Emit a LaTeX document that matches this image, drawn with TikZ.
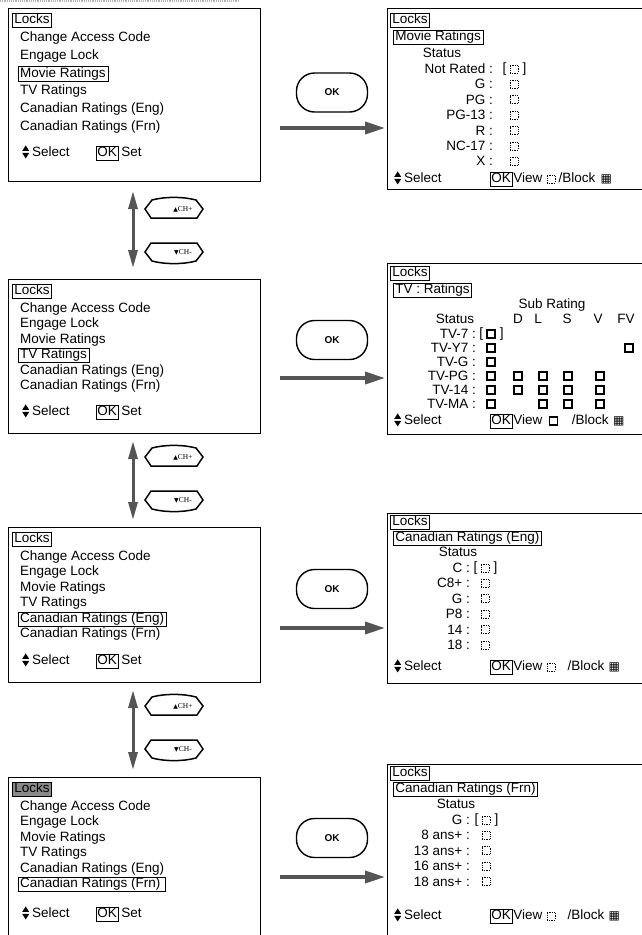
\documentclass[tikz,border=0pt]{standalone}
\usepackage{fontspec}
\setmainfont{Liberation Sans}
\newfontfamily\symfont{DejaVu Sans}
\newfontfamily\btnfont{Liberation Serif}
\usetikzlibrary{positioning, arrows.meta}

\definecolor{cArrow}{HTML}{555555}
\definecolor{cScan}{HTML}{B4B4B4}
\definecolor{cHilite}{HTML}{8A8A8A}

\newcommand{\updn}{\tikz[x=1pt, y=1pt, baseline=-4.5pt]{%
  \fill (0,1) -- (3.5,6.5) -- (7,1) -- cycle;
  \fill (0,-1) -- (3.5,-6.5) -- (7,-1) -- cycle;}}

\tikzset{
  screen/.style={draw, line width=0.8pt, inner sep=0pt, anchor=north west},
  mtext/.style={anchor=west, inner xsep=2pt, inner ysep=1pt, text height=9.4pt, text depth=2.6pt,
                font=\fontsize{13.5}{15}\selectfont},
  ctext/.style={mtext, anchor=center},
  rlab/.style={mtext, anchor=east},
  framed/.style={draw, line width=0.6pt},
  chk/.style={draw, line width=1.2pt, minimum size=8pt, inner sep=0pt},
  chkd/.style={draw, line width=0.8pt, densely dotted, minimum size=8pt, inner sep=0pt},
  blk/.style={mtext, font=\symfont\fontsize{12}{12}\selectfont},
  okbtn/.style={draw, line width=1.4pt, rounded corners=18pt, minimum width=71pt, minimum height=39pt,
                font=\bfseries\fontsize{10}{11}\selectfont},
  okarr/.style={cArrow, line width=3.5pt, -{Triangle[length=20pt, width=12pt]}, shorten >=2pt},
  charr/.style={cArrow, line width=3pt, {Triangle[length=18pt, width=9pt]}-{Triangle[length=18pt, width=9pt]}},
  chbtn/.style={draw, line width=1.5pt},
  chtxt/.style={inner sep=0pt, font=\btnfont\fontsize{7.5}{8}\selectfont},
}

\begin{document}
\begin{tikzpicture}[x=1pt, y=-1pt]
\useasboundingbox (0,0) rectangle (641,935);
\draw[cScan, line width=1.2pt, densely dotted] (0,1) -- (238,1);

% screens
\foreach \r/\LT/\LH/\RT/\RH in {1/8/173/8/181, 2/279/154/263/171, 3/527/155/513/170, 4/777/170/764/180} {
  \node[screen, minimum width=252pt, minimum height=\LH pt] (L\r) at (8,\LT) {};
  \node[screen, minimum width=262pt, minimum height=\RH pt] (R\r) at (387,\RT) {};
}

% OK key and arrow of every row
\foreach \r/\oy/\ay in {1/92.5/128, 2/340/378, 3/589/628, 4/838/877} {
  \node[okbtn] (ok\r) at (332,\oy) {OK};
  \coordinate (oa\r) at (280,\ay);
  \draw[okarr] (oa\r) -- (oa\r -| R\r.west);
}

% menu on the left
\foreach \r/\T/\st/\sl/\lk in {1/8/17.8/145/white, 2/279/15.5/133/white, 3/527/15.5/134/white, 4/777/15.5/137/cHilite} {
  \node[mtext, framed, fill=\lk] (L\r-lk) at (12,\T+12) {Locks};
  \foreach \txt [count=\i] in {Change Access Code, Engage Lock, Movie Ratings, TV Ratings,
                               Canadian Ratings (Eng), Canadian Ratings (Frn)\,}
    \node[mtext] (L\r-\i) at (18,\T+30+\st*\i-\st) {\txt};
  \node[mtext] (L\r-sel) at (20,\T+\sl) {\updn\hspace{3pt}Select};
  \node[mtext, framed, inner xsep=1pt] (L\r-ok) at (96,\T+\sl) {OK};
  \node[mtext, right=1pt of L\r-ok] (L\r-set) {Set};
}
\foreach \r/\i in {1/3, 2/4, 3/5, 4/6}
  \draw[line width=0.6pt] (L\r-\i.south west) rectangle (L\r-\i.north east);

% CH keys between the rows
\foreach \g/\B/\N/\U in {1/191/268/209, 2/441/520/457, 3/690/770/706} {
  \coordinate (vt\g) at (133,\B);
  \coordinate (vb\g) at (133,\N);
  \draw[charr] (vt\g) -- (vb\g);
  \draw[chbtn] (145,\U) -- (152,\U-9) .. controls (165,\U-12.5) and (183,\U-12.5) .. (196,\U-9)
               -- (203,\U) -- (197,\U+9) -- (151,\U+9) -- cycle;
  \draw[chbtn] (145,\U+43) -- (151,\U+34) -- (197,\U+34) -- (203,\U+43) -- (196,\U+52)
               .. controls (183,\U+55.5) and (165,\U+55.5) .. (152,\U+52) -- cycle;
  \node[chtxt] (chu\g) at (183,\U) {{\symfont\fontsize{6}{6}\selectfont ▲}CH+};
  \node[chtxt] (chd\g) at (183,\U+43) {{\symfont\fontsize{6}{6}\selectfont ▼}CH-};
}

% movie ratings
\node[mtext, framed] (R1-lk) at (390,20) {Locks};
\node[mtext, framed] (R1-tt) at (393,37) {Movie Ratings};
\node[ctext] (R1-st) at (442,54) {Status};
\foreach \lab [count=\i from 0] in {Not Rated, G, PG, PG-13, R, NC-17, X} {
  \node[rlab] (R1-l\i) at (495,70+15.4*\i) {\lab\ :};
  \node[chkd] (R1-c\i) at (514,69+15.4*\i) {};
}
\node[ctext, left=1pt of R1-c0] (R1-o) {[};
\node[ctext, right=2pt of R1-c0] (R1-e) {]};
\node[mtext] (R1-sel) at (392,179) {\updn\hspace{3pt}Select};
\node[mtext, framed, inner xsep=1pt] (R1-ok) at (490,179) {OK};
\node[mtext, right=0pt of R1-ok, inner xsep=1pt] (R1-vw) {View};
\node[chkd, right=3pt of R1-vw] (R1-vb) {};
\node[mtext, right=1pt of R1-vb] (R1-bl) {/Block};
\node[blk, right=1pt of R1-bl] (R1-bk) {▦};

% tv ratings
\node[mtext, framed] (R2-lk) at (390,273) {Locks};
\node[mtext, framed] (R2-tt) at (393,290) {TV : Ratings};
\node[ctext] (R2-sub) at (552,305) {Sub Rating};
\node[ctext] (R2-st) at (455,320) {Status};
\foreach \h/\hx in {D/518, L/538, S/567, V/598, FV/626}
  \node[ctext] (R2-h\h) at (\hx,320) {\h};
\foreach \lab [count=\i from 0] in {TV-7, TV-Y7, TV-G, TV-PG, TV-14, TV-MA} {
  \node[rlab] (R2-l\i) at (478,335+14*\i) {\lab\ :};
  \node[chk] (R2-c\i) at (491,334+14*\i) {};
}
\foreach \cx/\rw in {629/1, 518/3, 543/3, 568/3, 600/3, 518/4, 543/4, 568/4, 600/4, 543/5, 568/5, 600/5}
  \node[chk] (R2-s\rw-\cx) at (\cx,334+14*\rw) {};
\node[ctext, left=1pt of R2-c0] (R2-o) {[};
\node[ctext, right=2pt of R2-c0] (R2-e) {]};
\node[mtext] (R2-sel) at (392,421) {\updn\hspace{3pt}Select};
\node[mtext, framed, inner xsep=1pt] (R2-ok) at (490,421) {OK};
\node[mtext, right=0pt of R2-ok, inner xsep=1pt] (R2-vw) {View};
\node[chk, right=5pt of R2-vw] (R2-vb) {};
\node[mtext, right=12pt of R2-vb] (R2-bl) {/Block};
\node[blk, right=0pt of R2-bl] (R2-bk) {▦};

% canadian ratings, english
\node[mtext, framed] (R3-lk) at (390,522) {Locks};
\node[mtext, framed] (R3-tt) at (393,538) {Canadian Ratings (Eng)};
\node[ctext] (R3-st) at (458,553) {Status};
\foreach \lab [count=\i from 0] in {C, C8+, G, P8, 14, 18} {
  \node[rlab] (R3-l\i) at (472,569+15.4*\i) {\lab\ :};
  \node[chkd] (R3-c\i) at (485,568+15.4*\i) {};
}
\node[ctext, left=1pt of R3-c0] (R3-o) {[};
\node[ctext, right=2pt of R3-c0] (R3-e) {]};
\node[mtext] (R3-sel) at (392,667) {\updn\hspace{3pt}Select};
\node[mtext, framed, inner xsep=1pt] (R3-ok) at (490,667) {OK};
\node[mtext, right=0pt of R3-ok, inner xsep=1pt] (R3-vw) {View};
\node[chkd, right=3pt of R3-vw] (R3-vb) {};
\node[mtext, right=10pt of R3-vb] (R3-bl) {/Block};
\node[blk, right=0pt of R3-bl] (R3-bk) {▦};

% canadian ratings, french
\node[mtext, framed] (R4-lk) at (390,773) {Locks};
\node[mtext, framed] (R4-tt) at (393,789) {Canadian Ratings (Frn)\hspace{4pt}};
\node[ctext] (R4-st) at (456,805) {Status};
\foreach \lab [count=\i from 0] in {G, 8 ans+, 13 ans+, 16 ans+, 18 ans+} {
  \node[rlab] (R4-l\i) at (472,821+15.4*\i) {\lab\ :};
  \node[chkd] (R4-c\i) at (486,820+15.4*\i) {};
}
\node[ctext, left=1pt of R4-c0] (R4-o) {[};
\node[ctext, right=2pt of R4-c0] (R4-e) {]};
\node[mtext] (R4-sel) at (392,916) {\updn\hspace{3pt}Select};
\node[mtext, framed, inner xsep=1pt] (R4-ok) at (490,916) {OK};
\node[mtext, right=0pt of R4-ok, inner xsep=1pt] (R4-vw) {View};
\node[chkd, right=3pt of R4-vw] (R4-vb) {};
\node[mtext, right=10pt of R4-vb] (R4-bl) {/Block};
\node[blk, right=0pt of R4-bl] (R4-bk) {▦};
\end{tikzpicture}
\end{document}
